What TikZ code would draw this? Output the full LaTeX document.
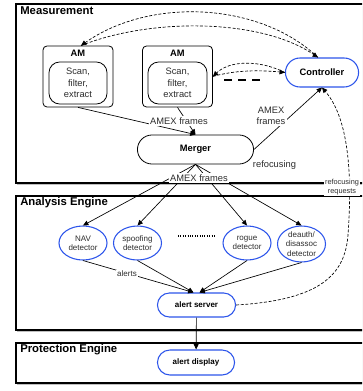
\documentclass[tikz,border=0pt]{standalone}
\usepackage{fontspec}
\setmainfont{Liberation Sans}
\usetikzlibrary{arrows.meta,shapes.misc,shapes.geometric,shadows}
\newcommand{\pxu}{0.75pt}
\definecolor{nodeblue}{RGB}{45,85,235}
\definecolor{txtgray}{RGB}{45,45,45}

\begin{document}
\begin{tikzpicture}[x=0.75pt, y=-0.75pt,
		frame/.style={draw=black, line width=1pt, fill=white, drop shadow={shadow xshift=0.8pt, shadow yshift=-1.8pt, opacity=0.5}},
		title/.style={anchor=base west, inner sep=0pt, font=\fontsize{8.5}{10}\selectfont\bfseries},
		amouter/.style={draw, rectangle, rounded corners=3pt, line width=0.6pt, minimum width=70*\pxu, minimum height=61*\pxu},
		amtask/.style={draw, rectangle, rounded corners=8pt, line width=0.6pt, minimum width=58*\pxu, minimum height=42*\pxu, inner sep=1pt, align=center, text=txtgray, font=\fontsize{7}{8.6}\selectfont},
		merge/.style={draw, rounded rectangle, line width=0.6pt, minimum width=125*\pxu, minimum height=29*\pxu, font=\fontsize{7}{8}\selectfont\bfseries},
		bluebox/.style={draw=nodeblue, rounded rectangle, line width=0.8pt, font=\fontsize{6}{7}\selectfont\bfseries},
		detector/.style={draw=nodeblue, ellipse, line width=0.8pt, inner sep=0pt, align=center, text=txtgray, minimum width=48*\pxu, minimum height=34*\pxu, font=\fontsize{6}{7}\selectfont},
		lbl/.style={fill=white, inner sep=1pt, align=center, text=txtgray, font=\fontsize{7}{8}\selectfont},
		arrow/.style={line width=0.5pt, -{Triangle[length=4pt, width=3.6pt]}},
		dasharrow/.style={arrow, dash pattern=on 2.2pt off 1.3pt}
		]
		\useasboundingbox (0,0) rectangle (362,391);
		\clip (0,0) rectangle (362,391);
		
		% engines
		\draw [frame] (16,4) rectangle (372,183);
		\draw [frame] (16,196) rectangle (372,330);
		\draw [frame] (16,343) rectangle (372,383);
		\node (measttl) at (20,15) [title] {Measurement};
		\node (anattl) at (20,205) [title] {Analysis Engine};
		\node (protttl) at (20,352) [title] {Protection Engine};
		
		% measurement
		\node (am1) at (78,76.5) [amouter] {};
		\node (am1ttl) at (78,53) [font=\fontsize{7}{8}\selectfont\bfseries] {AM};
		\node (am1task) at (78,83) [amtask] {Scan,\\filter,\\extract};
		\node (am2) at (177.5,76.5) [amouter] {};
		\node (am2ttl) at (177.5,53) [font=\fontsize{7}{8}\selectfont\bfseries] {AM};
		\node (am2task) at (177.5,83) [amtask, minimum width=59*\pxu] {Scan,\\filter,\\extract};
		\node (ctrl) at (322,72.5) [bluebox, minimum width=82*\pxu, minimum height=29*\pxu, font=\fontsize{7}{8}\selectfont\bfseries] {Controller};
		\node (merger) at (195.5,149.5) [merge] {Merger};
		
		% analysis
		\node (nav) at (83,243) [detector] {NAV\\detector};
		\node (spoof) at (137.5,243) [detector] {spoofing\\detector};
		\node (rogue) at (247,243) [detector] {rogue\\detector};
		\node (deauth) at (301.5,244) [detector, minimum height=36*\pxu] {deauth/\\disassoc\\detector};
		\node (alertsrv) at (196.5,305) [bluebox, minimum width=87*\pxu, minimum height=24*\pxu] {alert server};
		
		% protection
		\node (alertdsp) at (196,362.5) [bluebox, minimum width=86*\pxu, minimum height=25*\pxu] {alert display};
		
		\coordinate (dashA) at (224,80);
		\coordinate (dashB) at (262,80);
		\coordinate (dotA) at (178,236);
		\coordinate (dotB) at (215,236);
		
		\draw [dasharrow] ([xshift=-4*\pxu]ctrl.north) .. controls (260,2) and (150,-3) .. ([xshift=3*\pxu]am1.north);
		\draw [dasharrow] ([xshift=3*\pxu]am1.north) .. controls (150,18) and (260,18) .. ([xshift=-4*\pxu]ctrl.north);
		\draw [dasharrow] (ctrl.west) .. controls (260,60) and (230,60) .. (am2.east);
		\draw [dasharrow] (am2.east) .. controls (235,70) and (260,70) .. (ctrl.west);
		\draw [line width=1.5pt, dash pattern=on 6pt off 4.5pt] (dashA) -- (dashB);
		
		\draw [arrow] (am1.south) -- (merger.north);
		\draw [arrow] (am2.south) -- (merger.north);
		\draw [arrow] (merger.east) -- (ctrl.south);
		\node (amexam) at (179,121) [lbl] {AMEX frames};
		\node (amexctl) at (271,116) [lbl] {AMEX\\frames};
		\node (refoc) at (274.5,165) [lbl] {refocusing};
		
		\draw [arrow] (merger.south) -- (nav.north);
		\draw [arrow] (merger.south) -- (spoof.north);
		\draw [arrow] (merger.south) -- (rogue.north);
		\draw [arrow] (merger.south) -- (deauth.north);
		\node (amexdet) at (199,178) [lbl] {AMEX frames};
		\draw [densely dotted, line width=0.8pt] (dotA) -- (dotB);
		
		\draw [arrow] (nav.south) -- ([xshift=-3*\pxu]alertsrv.north);
		\draw [arrow] (spoof.south) -- ([xshift=-3*\pxu]alertsrv.north);
		\draw [arrow] (rogue.south) -- ([xshift=3*\pxu]alertsrv.north);
		\draw [arrow] (deauth.south) -- ([xshift=3*\pxu]alertsrv.north);
		\node (alerts) at (127,274) [lbl, font=\fontsize{6}{7}\selectfont] {alerts};
		\draw [arrow] (alertsrv) -- (alertdsp);
		
		\draw [dasharrow] (alertsrv.east) .. controls (320,300) and (345,275) .. (348,235) .. controls (352,180) and (350,120) .. (ctrl.south);
		\node (refocreq) at (342,187) [lbl, font=\fontsize{5.5}{6.5}\selectfont] {refocusing\\requests};
	\end{tikzpicture}
\end{document}
